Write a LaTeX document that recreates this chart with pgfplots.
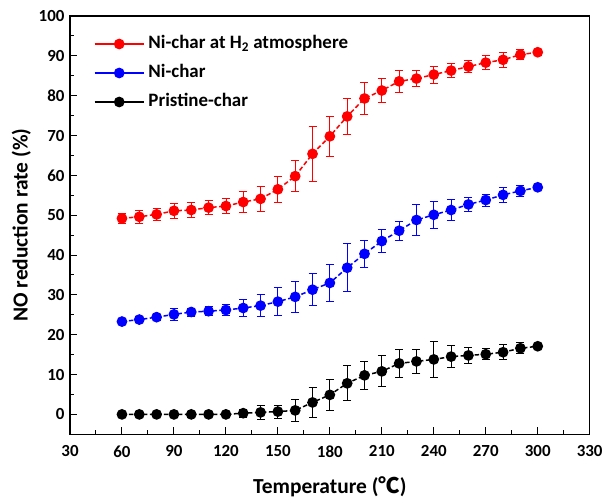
\documentclass[border=0pt]{standalone}
\usepackage{fontspec}
\setmainfont{Carlito}
\newfontfamily\cjk{Noto Sans CJK SC}
\usepackage{pgfplots}
\usepackage{pgfplotstable}
\pgfplotsset{compat=1.18}

\pgfplotstableread{
x y e
60 49.2 1.3
70 49.6 1.6
80 50.2 1.5
90 51.1 1.9
100 51.3 1.8
110 51.9 1.8
120 52.3 1.8
130 53.3 2.6
140 54.1 3.1
150 56.5 3.3
160 59.8 3.9
170 65.4 6.9
180 69.8 5.0
190 74.8 4.6
200 79.3 4.0
210 81.3 3.0
220 83.6 2.8
230 84.3 2.0
240 85.3 2.1
250 86.3 1.8
260 87.3 1.5
270 88.3 1.7
280 89.0 1.9
290 90.3 1.3
300 90.9 0.8
}\redtab

\pgfplotstableread{
x y e
60 23.3 0.7
70 23.8 0.7
80 24.4 0.8
90 25.1 1.4
100 25.7 1.0
110 25.9 1.1
120 26.2 1.3
130 26.7 2.2
140 27.3 2.7
150 28.3 3.5
160 29.5 3.8
170 31.3 4.0
180 33.0 4.7
190 36.8 6.0
200 40.3 3.3
210 43.5 2.9
220 46.1 2.4
230 48.8 3.8
240 50.1 3.4
250 51.3 2.6
260 52.7 1.7
270 53.8 1.5
280 55.1 1.8
290 56.1 1.3
300 57.0 0.6
}\bluetab

\pgfplotstableread{
x y e
60 0 0.3
70 0 0.2
80 0 0.2
90 0 0.2
100 0 0.2
110 0 0.2
120 0 0.3
130 0.3 1.0
140 0.5 1.8
150 0.7 1.6
160 1.0 2.8
170 3.0 3.8
180 4.9 3.9
190 7.8 4.4
200 9.8 3.6
210 10.8 3.9
220 12.8 3.4
230 13.3 2.9
240 13.8 4.4
250 14.5 2.8
260 14.8 1.9
270 15.1 1.4
280 15.6 1.9
290 16.6 1.4
300 17.1 0.6
}\blacktab

\begin{document}
\begin{tikzpicture}
\begin{axis}[
  name=ax,
  scale only axis,
  width=519.7bp, height=418.3bp,
  xmin=30, xmax=330, ymin=-5, ymax=100,
  xtick={30,60,...,330},
  ytick={0,10,...,100},
  minor x tick num=1,
  minor y tick num=1,
  tick align=inside,
  xtick pos=bottom, ytick pos=left,
  major tick length=7bp, minor tick length=4bp,
  axis line style={line width=1.4bp},
  every tick/.style={black, line width=1bp},
  /pgf/number format/assume math mode=true,
  /pgf/number format/1000 sep={},
  ticklabel style={font=\bfseries\fontsize{17}{17}\selectfont},
  xticklabel style={yshift=-8bp},
  yticklabel style={xshift=-2bp},
  xlabel={\bfseries Temperature ({\cjk\bfseries ℃})},
  ylabel={\bfseries NO reduction rate (\%)},
  label style={font=\fontsize{21.5}{21.5}\selectfont},
  xlabel style={yshift=-12bp},
  ylabel style={yshift=1bp},
  legend style={draw=none, fill=none, anchor=north west,
    at={(rel axis cs:0,1)}, xshift=24bp, yshift=-19bp,
    font=\bfseries\fontsize{19}{21}\selectfont, inner sep=0pt, outer sep=0pt,
    row sep=0bp, column sep=4bp,
    nodes={inner sep=0pt, text height=14bp, text depth=15bp, anchor=base west}},
  legend cell align=left,
  legend image code/.code={\draw[#1, solid, mark repeat=2, mark phase=2] plot coordinates {(0bp,5bp) (24.5bp,5bp) (49bp,5bp)};},
  every axis plot/.append style={line width=1.5bp, dash pattern=on 4.5bp off 2.5bp,
    mark=*, mark size=4.6bp, mark options={solid},
    error bars/y dir=both, error bars/y explicit,
    error bars/error bar style={solid, line width=0.8bp},
    error bars/error mark options={rotate=90, mark size=4bp, line width=0.8bp, solid}},
]
\addplot[red] table[x=x, y=y, y error=e] {\redtab};
\addlegendentry{Ni-char at H\textsubscript{2} atmosphere}
\addplot[blue] table[x=x, y=y, y error=e] {\bluetab};
\addlegendentry{Ni-char}
\addplot[black] table[x=x, y=y, y error=e] {\blacktab};
\addlegendentry{Pristine-char}
\end{axis}
\pgfresetboundingbox
\path (ax.south west) ++(-70bp,-65bp) coordinate (bbA);
\path (ax.north east) ++(14.3bp,16bp) coordinate (bbB);
\useasboundingbox (bbA) rectangle (bbB);
\end{tikzpicture}
\end{document}
